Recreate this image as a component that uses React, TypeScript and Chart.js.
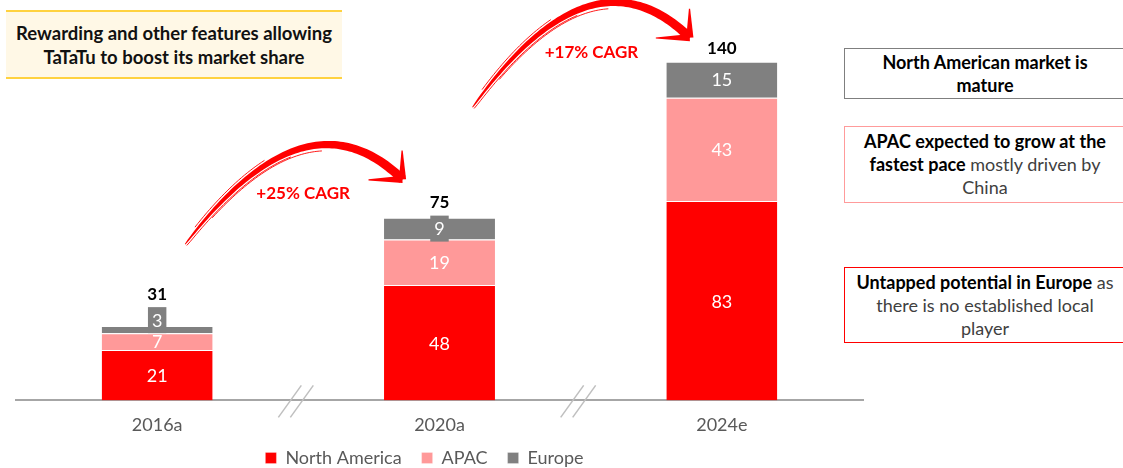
import React, { useEffect, useRef } from "react";
import { Chart, registerables } from "chart.js";

Chart.register(...registerables);

// ---------- data ----------
const categories = ["2016a", "2020a", "2024e"];
const northAmerica = [21, 48, 83];
const apac = [7, 19, 43];
const europe = [3, 9, 15];
const totals = [31, 75, 140];
const seriesNames = ["North America", "APAC", "Europe"];
const cagrLabels = ["+25% CAGR", "+17% CAGR"];

const RED = "#FF0000";
const PINK = "#FF9999";
const GREY = "#808080";
const FONT = "Lato, 'Open Sans', sans-serif";

type Pt = { x: number; y: number };

function drawTaper(ctx: CanvasRenderingContext2D, a: Pt, b: Pt, wA: number, wB: number) {
  const dx = b.x - a.x, dy = b.y - a.y;
  const len = Math.hypot(dx, dy);
  const nx = -dy / len, ny = dx / len;
  ctx.beginPath();
  ctx.moveTo(a.x + nx * wA, a.y + ny * wA);
  ctx.lineTo(b.x + nx * wB, b.y + ny * wB);
  ctx.lineTo(b.x - nx * wB, b.y - ny * wB);
  ctx.lineTo(a.x - nx * wA, a.y - ny * wA);
  ctx.closePath();
  ctx.fill();
}

function drawBrushArrow(ctx: CanvasRenderingContext2D, p0: Pt, c: Pt, p2: Pt) {
  const N = 80;
  const left: Pt[] = [];
  const right: Pt[] = [];
  const pts: { p: Pt; n: Pt; w: number }[] = [];
  for (let k = 0; k <= N; k++) {
    const t = k / N;
    const x = (1 - t) * (1 - t) * p0.x + 2 * (1 - t) * t * c.x + t * t * p2.x;
    const y = (1 - t) * (1 - t) * p0.y + 2 * (1 - t) * t * c.y + t * t * p2.y;
    const dx = 2 * (1 - t) * (c.x - p0.x) + 2 * t * (p2.x - c.x);
    const dy = 2 * (1 - t) * (c.y - p0.y) + 2 * t * (p2.y - c.y);
    const len = Math.hypot(dx, dy);
    const nx = -dy / len, ny = dx / len;
    const w = 0.4 + 4.2 * Math.pow(t, 0.55);
    left.push({ x: x + nx * w, y: y + ny * w });
    right.push({ x: x - nx * w, y: y - ny * w });
    pts.push({ p: { x, y }, n: { x: nx, y: ny }, w });
  }
  ctx.save();
  ctx.fillStyle = RED;
  ctx.strokeStyle = RED;
  ctx.beginPath();
  ctx.moveTo(left[0].x, left[0].y);
  left.forEach((p) => ctx.lineTo(p.x, p.y));
  for (let i = right.length - 1; i >= 0; i--) ctx.lineTo(right[i].x, right[i].y);
  ctx.closePath();
  ctx.fill();
  // brush streaks
  ctx.lineWidth = 0.9;
  const streaks = [
    { s: 0.0, e: 0.45, off: 1.6 },
    { s: 0.05, e: 0.35, off: -1.7 },
    { s: 0.1, e: 0.6, off: 2.6 },
  ];
  streaks.forEach((st) => {
    ctx.beginPath();
    const i0 = Math.round(st.s * N), i1 = Math.round(st.e * N);
    for (let i = i0; i <= i1; i++) {
      const q = pts[i];
      const d = st.off > 0 ? q.w + st.off : -(q.w - st.off);
      const sx = q.p.x + q.n.x * d;
      const sy = q.p.y + q.n.y * d;
      if (i === i0) ctx.moveTo(sx, sy);
      else ctx.lineTo(sx, sy);
    }
    ctx.stroke();
  });
  // arrow head
  const ang = Math.atan2(p2.y - c.y, p2.x - c.x);
  const back = ang + Math.PI;
  const L = 34;
  [back - Math.PI / 4, back + Math.PI / 4].forEach((a, i) => {
    const k = i === 0 ? 1 : 0.85;
    const end = { x: p2.x + Math.cos(a) * L * k, y: p2.y + Math.sin(a) * L * k };
    drawTaper(ctx, p2, end, 3.6, 0.6);
  });
  ctx.restore();
}

const decorPlugin = {
  id: "decor",
  afterLayout(chart: any) {
    const lg = chart.legend;
    if (lg) {
      lg.left -= 15;
      lg.right -= 15;
      lg.top -= 21;
      lg.bottom -= 21;
    }
  },
  afterDatasetsDraw(chart: any) {
    const ctx: CanvasRenderingContext2D = chart.ctx;
    const xs = chart.scales.x;
    const ys = chart.scales.y;
    ctx.save();
    ctx.textAlign = "center";
    ctx.textBaseline = "middle";
    for (let i = 0; i < categories.length; i++) {
      let topY = Infinity;
      let cx = 0;
      chart.data.datasets.forEach((ds: any, d: number) => {
        const el = chart.getDatasetMeta(d).data[i];
        const { x, y, base } = el.getProps(["x", "y", "base"], true);
        cx = x;
        const h = base - y;
        const text = String(ds.data[i]);
        ctx.font = `18px ${FONT}`;
        let cy = (y + base) / 2;
        topY = Math.min(topY, y);
        if (d === 2) {
          const w = ctx.measureText(text).width + 8;
          const bh = 26;
          let bt = cy - bh / 2;
          if (h < 15) bt = base - bh;
          ctx.fillStyle = GREY;
          ctx.fillRect(x - w / 2, bt, w, bh);
          cy = bt + bh / 2;
          topY = Math.min(topY, bt);
        }
        ctx.fillStyle = "#FFFFFF";
        ctx.fillText(text, x, cy + 1);
      });
      ctx.fillStyle = "#000000";
      ctx.font = `bold 17px ${FONT}`;
      ctx.fillText(String(totals[i]), cx, topY - 13);
    }

    // axis break marks
    ctx.strokeStyle = "#BFBFBF";
    ctx.lineWidth = 1.5;
    const base = ys.getPixelForValue(0);
    for (let i = 0; i < categories.length - 1; i++) {
      const m = (xs.getPixelForValue(i) + xs.getPixelForValue(i + 1)) / 2 - 2;
      [[-18, 5], [-6, 17]].forEach(([a, b]) => {
        ctx.beginPath();
        ctx.moveTo(m + a, base + 17);
        ctx.lineTo(m + b, base - 15);
        ctx.stroke();
      });
    }

    // CAGR arrows
    const X = (i: number, dx: number) => xs.getPixelForValue(i) + dx;
    const Y = (v: number) => ys.getPixelForValue(v);
    drawBrushArrow(ctx, { x: X(0, 28), y: Y(65) }, { x: X(0, 149), y: Y(131) }, { x: X(1, -37), y: Y(92) });
    drawBrushArrow(ctx, { x: X(1, 33), y: Y(122) }, { x: X(1, 152), y: Y(191) }, { x: X(2, -32), y: Y(151) });
    ctx.fillStyle = RED;
    ctx.font = `bold 17px ${FONT}`;
    ctx.fillText(cagrLabels[0], X(0, 146), Y(86));
    ctx.fillText(cagrLabels[1], X(1, 152), Y(145));
    ctx.restore();
  },
};

const boxBase: React.CSSProperties = {
  position: "absolute",
  boxSizing: "border-box",
  display: "flex",
  alignItems: "center",
  justifyContent: "center",
  textAlign: "center",
  fontFamily: FONT,
  fontSize: "18px",
  lineHeight: "23px",
  color: "#404040",
  background: "#FFFFFF",
};

const B: React.CSSProperties = { fontWeight: 700, color: "#000000" };

export default function App() {
  const ref = useRef<HTMLCanvasElement | null>(null);
  useEffect(() => {
    if (!ref.current) return;
    const chart = new Chart(ref.current, {
      type: "bar",
      data: {
        labels: categories,
        datasets: [
          { label: seriesNames[0], data: northAmerica, backgroundColor: RED },
          { label: seriesNames[1], data: apac, backgroundColor: PINK },
          { label: seriesNames[2], data: europe, backgroundColor: GREY },
        ].map((d) => ({
          ...d,
          borderColor: "#FFFFFF",
          borderWidth: { top: 1, left: 0, right: 0, bottom: 0 },
          borderSkipped: false,
          barPercentage: 0.393,
          categoryPercentage: 1,
        })),
      },
      options: {
        animation: false,
        responsive: false,
        layout: { padding: { left: 16, right: 260, top: 16, bottom: -30 } },
        scales: {
          x: {
            stacked: true,
            offset: true,
            grid: { display: false, drawTicks: false },
            border: { display: true, color: "#A6A6A6", width: 2 },
            ticks: { color: "#595959", font: { family: FONT, size: 18 }, padding: 14, maxRotation: 0 },
          },
          y: { stacked: true, display: false, min: 0, max: 160 },
        },
        plugins: {
          legend: {
            position: "bottom",
            labels: {
              boxWidth: 11,
              boxHeight: 11,
              padding: 20,
              color: "#595959",
              font: { family: FONT, size: 18 },
            },
          },
          tooltip: { enabled: false },
        },
      },
      plugins: [decorPlugin],
    } as any);
    return () => chart.destroy();
  }, []);

  return (
    <div style={{ position: "fixed", left: 0, top: 0, width: 1123, height: 468, overflow: "hidden", background: "#FFFFFF" }}>
      <canvas ref={ref} width={1123} height={468} style={{ position: "absolute", left: 0, top: 0, width: 1123, height: 468 }} />
      <div
        style={{
          ...boxBase,
          left: 6,
          top: 10,
          width: 336,
          height: 69,
          background: "#FFF8E6",
          borderTop: "2px solid #FFD23F",
          borderBottom: "2px solid #FFD23F",
          lineHeight: "24px",
          fontSize: "18.5px",
          fontWeight: 700,
          color: "#111111",
        }}
      >
        <div>
          Rewarding and other features allowing
          <br />
          TaTaTu to boost its market share
        </div>
      </div>
      <div style={{ ...boxBase, left: 844, top: 48, width: 282, height: 51, border: "1.5px solid #7F7F7F" }}>
        <div style={B}>
          North American market is
          <br />
          mature
        </div>
      </div>
      <div style={{ ...boxBase, left: 844, top: 126, width: 282, height: 77, border: "1.5px solid #FF9B9B" }}>
        <div>
          <span style={B}>APAC expected to grow at the</span>
          <br />
          <span style={B}>fastest pace</span> mostly driven by
          <br />
          China
        </div>
      </div>
      <div style={{ ...boxBase, left: 844, top: 267, width: 282, height: 76, border: "1.5px solid #FF0000" }}>
        <div>
          <span style={B}>Untapped potential in Europe</span> as
          <br />
          there is no established local
          <br />
          player
        </div>
      </div>
    </div>
  );
}
